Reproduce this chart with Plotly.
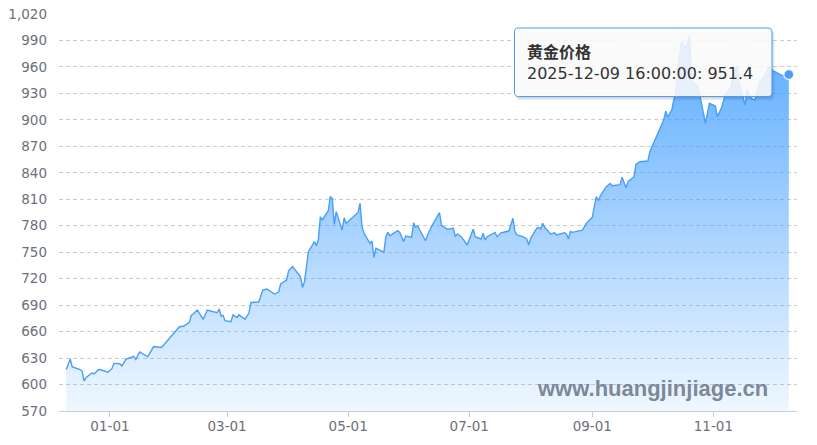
import plotly.graph_objects as go

# 黄金价格（元/克），读自原图
dates = [
    "2024-12-10", "2024-12-12", "2024-12-13", "2024-12-16", "2024-12-17", "2024-12-18",
    "2024-12-19", "2024-12-20", "2024-12-23", "2024-12-24", "2024-12-26", "2024-12-27",
    "2024-12-31", "2025-01-02", "2025-01-03", "2025-01-06", "2025-01-07", "2025-01-09",
    "2025-01-13", "2025-01-14", "2025-01-16", "2025-01-20", "2025-01-23", "2025-01-27",
    "2025-02-05", "2025-02-07", "2025-02-10", "2025-02-11", "2025-02-12", "2025-02-14",
    "2025-02-17", "2025-02-19", "2025-02-21", "2025-02-24", "2025-02-25", "2025-02-26",
    "2025-02-27", "2025-02-28", "2025-03-03", "2025-03-04", "2025-03-06", "2025-03-07",
    "2025-03-10", "2025-03-12", "2025-03-13", "2025-03-17", "2025-03-19", "2025-03-21",
    "2025-03-25", "2025-03-27", "2025-03-28", "2025-03-31", "2025-04-01", "2025-04-03",
    "2025-04-07", "2025-04-08", "2025-04-09", "2025-04-11", "2025-04-14", "2025-04-15",
    "2025-04-16", "2025-04-17", "2025-04-18", "2025-04-21", "2025-04-22", "2025-04-23",
    "2025-04-24", "2025-04-25", "2025-04-28", "2025-04-29", "2025-04-30", "2025-05-06",
    "2025-05-07", "2025-05-08", "2025-05-09", "2025-05-12", "2025-05-13", "2025-05-14",
    "2025-05-15", "2025-05-19", "2025-05-20", "2025-05-21", "2025-05-22", "2025-05-26",
    "2025-05-27", "2025-05-29", "2025-05-30", "2025-06-02", "2025-06-03", "2025-06-04",
    "2025-06-05", "2025-06-09", "2025-06-10", "2025-06-12", "2025-06-16", "2025-06-17",
    "2025-06-18", "2025-06-20", "2025-06-23", "2025-06-24", "2025-06-25", "2025-06-27",
    "2025-06-30", "2025-07-03", "2025-07-04", "2025-07-07", "2025-07-08", "2025-07-09",
    "2025-07-10", "2025-07-14", "2025-07-15", "2025-07-17", "2025-07-21", "2025-07-23",
    "2025-07-24", "2025-07-25", "2025-07-28", "2025-07-30", "2025-07-31", "2025-08-01",
    "2025-08-04", "2025-08-05", "2025-08-06", "2025-08-07", "2025-08-08", "2025-08-11",
    "2025-08-13", "2025-08-14", "2025-08-18", "2025-08-19", "2025-08-20", "2025-08-21",
    "2025-08-22", "2025-08-25", "2025-08-27", "2025-08-29", "2025-09-01", "2025-09-02",
    "2025-09-03", "2025-09-04", "2025-09-05", "2025-09-08", "2025-09-10", "2025-09-11",
    "2025-09-15", "2025-09-16", "2025-09-18", "2025-09-19", "2025-09-22", "2025-09-23",
    "2025-09-25", "2025-09-29", "2025-09-30", "2025-10-07", "2025-10-08", "2025-10-09",
    "2025-10-11", "2025-10-12", "2025-10-13", "2025-10-14", "2025-10-15", "2025-10-16",
    "2025-10-18", "2025-10-20", "2025-10-21", "2025-10-24", "2025-10-25", "2025-10-27",
    "2025-10-28", "2025-10-30", "2025-11-02", "2025-11-03", "2025-11-05", "2025-11-07",
    "2025-11-10", "2025-11-11", "2025-11-13", "2025-11-14", "2025-11-17", "2025-11-18",
    "2025-11-20", "2025-11-22", "2025-11-24", "2025-11-27", "2025-11-29", "2025-12-01",
    "2025-12-05", "2025-12-08", "2025-12-09",
]
prices = [
    617, 629, 620, 618, 617, 615,
    604, 608, 613, 612, 616.5, 617,
    614, 618, 624, 623.6, 621, 628.6,
    632, 628.6, 637, 631.5, 643, 642,
    665.5, 666, 670.5, 678.5, 680, 684.5,
    674, 684.5, 683, 681.4, 685.6, 677.7,
    678.5, 672.4, 671.3, 679, 676, 679,
    674, 680.7, 693, 693.5, 707, 708.3,
    702.6, 705, 714, 718.5, 729, 733.6,
    722, 710, 716.6, 750.6, 762, 757.4,
    764, 790, 786.5, 797, 813, 811,
    781.6, 796, 775, 789, 782.7, 795,
    805.4, 779, 771.4, 760, 762.7, 744,
    754.4, 750, 767.6, 772.5, 768.7, 774.4,
    772.5, 762, 768.4, 767, 783.4, 778.2,
    779.7, 763, 769.5, 779, 794.8, 780.8,
    779, 776, 777, 767.6, 770.7, 767.6,
    758.2, 776, 767.6, 765, 771.4, 763.8,
    767.6, 772.5, 767.6, 772, 774, 788.4,
    773.6, 769.5, 767.6, 765, 758.2, 765.7,
    777, 778.2, 776.3, 782.7, 778.2, 770.7,
    772, 769.5, 772, 770.3, 765, 773.6,
    772.5, 774.4, 775, 782.7, 789.5, 801.6,
    812.9, 808.4, 813.7, 824.3, 828, 825.4,
    826.5, 834.9, 823.1, 830, 835.6, 849.6,
    852.6, 853.4, 864, 900, 910, 903,
    911, 922, 930, 957, 975, 989,
    981, 995, 945, 937.6, 930, 907.4,
    896, 918.8, 915.7, 903.6, 913, 928,
    937.6, 952.8, 960.3, 941.4, 916.8, 933.8,
    924.4, 922.5, 941, 951, 960, 955.8,
    951, 949, 951.4,
]

x_ticks = ["2025-01-01", "2025-03-01", "2025-05-01", "2025-07-01", "2025-09-01", "2025-11-01"]
x_labels = ["01-01", "03-01", "05-01", "07-01", "09-01", "11-01"]
y_ticks = list(range(570, 1021, 30))

series_name = "黄金价格"
last_time = "16:00:00"

# 去掉页面 body 的默认外边距后，图铺满 817x445
W, H = 817, 445
PLOT_L, PLOT_R, PLOT_T, PLOT_B = 59, 797, 14, 411   # 绘图区像素位置
M = dict(l=PLOT_L, r=W - PLOT_R, t=PLOT_T, b=H - PLOT_B)
PW = PLOT_R - PLOT_L
PH = PLOT_B - PLOT_T

LINE = "#4a9ef8"
FONT = "Noto Sans CJK SC"
AXIS_FONT = dict(family="DejaVu Sans", size=13.5, color="#6e7079")


def px2paper(x, y):
    return (x - PLOT_L) / PW, (PLOT_B - y) / PH


def round_rect(x0, y0, x1, y1, r):
    # 圆角矩形路径，像素 -> paper 坐标
    def p(x, y):
        a, b = px2paper(x, y)
        return "%.5f,%.5f" % (a, b)
    parts = [
        "M " + p(x0 + r, y0),
        "L " + p(x1 - r, y0),
        "Q " + p(x1, y0) + " " + p(x1, y0 + r),
        "L " + p(x1, y1 - r),
        "Q " + p(x1, y1) + " " + p(x1 - r, y1),
        "L " + p(x0 + r, y1),
        "Q " + p(x0, y1) + " " + p(x0, y1 - r),
        "L " + p(x0, y0 + r),
        "Q " + p(x0, y0) + " " + p(x0 + r, y0),
    ]
    return " ".join(parts) + " Z"


fig = go.Figure()
fig.add_trace(go.Scatter(
    x=dates, y=prices, mode="lines", name=series_name,
    line=dict(color=LINE, width=1.4),
    fill="tozeroy",
    fillgradient=dict(
        type="vertical",
        colorscale=[[0, "rgba(64,158,255,0.08)"], [1, "rgba(64,158,255,0.86)"]],
        start=570, stop=max(prices),
    ),
    hoverinfo="skip",
))
fig.add_trace(go.Scatter(
    x=[dates[-1]], y=[prices[-1]], mode="markers",
    marker=dict(size=10, color=LINE, line=dict(color="rgba(255,255,255,0.8)", width=1.5)),
    hoverinfo="skip",
))

# tooltip 框（带阴影）
bx0, by0, bx1, by1 = 514.5, 28, 772, 96.5
shapes = []
for off, alpha in [(4, 0.04), (3, 0.05), (2, 0.07)]:
    shapes.append(dict(type="path", xref="paper", yref="paper",
                       path=round_rect(bx0 + 1, by0 + off - 1, bx1 + off - 1, by1 + off, 5),
                       fillcolor="rgba(0,0,0,%.2f)" % alpha, line=dict(width=0), layer="above"))
shapes.append(dict(type="path", xref="paper", yref="paper",
                   path=round_rect(bx0, by0, bx1, by1, 4),
                   fillcolor="rgba(255,255,255,0.86)", line=dict(color="#4d9cf5", width=1), layer="above"))

tx, ty = px2paper(525, 61)
wx, wy = px2paper(652, 388)

tip_text = "<b>%s</b><br><span style='font-family:DejaVu Sans'>%s %s: %s</span>" % (
    series_name, dates[-1], last_time, prices[-1])

annotations = [
    dict(x=tx, y=ty, xref="paper", yref="paper", xanchor="left", yanchor="middle",
         align="left", text=tip_text, showarrow=False,
         font=dict(family=FONT, size=16, color="#333333")),
    dict(x=wx, y=wy, xref="paper", yref="paper", xanchor="center", yanchor="middle",
         text="<b>www.huangjinjiage.cn</b>", showarrow=False,
         font=dict(family="Liberation Sans", size=22, color="rgba(110,122,138,0.9)")),
]

fig.update_layout(
    width=W, height=H, margin=dict(M, autoexpand=False),
    paper_bgcolor="white", plot_bgcolor="white",
    showlegend=False,
    shapes=shapes, annotations=annotations,
    xaxis=dict(
        type="date", range=["2024-12-06 08:00", "2025-12-13 03:00"],
        tickvals=x_ticks, ticktext=x_labels,
        showgrid=False, zeroline=False, automargin=False,
        showline=True, linecolor="#c9ced6", linewidth=1,
        ticks="outside", ticklen=5, tickcolor="#c9ced6",
        ticklabelstandoff=-2,
        tickfont=AXIS_FONT,
    ),
    yaxis=dict(
        range=[570, 1020], tickvals=y_ticks, tickformat=",d",
        showgrid=True, gridcolor="#cccccc", griddash="4px,3px", gridwidth=1,
        zeroline=False, showline=False, ticks="", automargin=False,
        ticklabelstandoff=11, ticklabeloverflow="allow",
        tickfont=AXIS_FONT,
    ),
)

fig.write_html("out.html", config={"displayModeBar": False},
               post_script="document.body.style.margin = '0px';")
